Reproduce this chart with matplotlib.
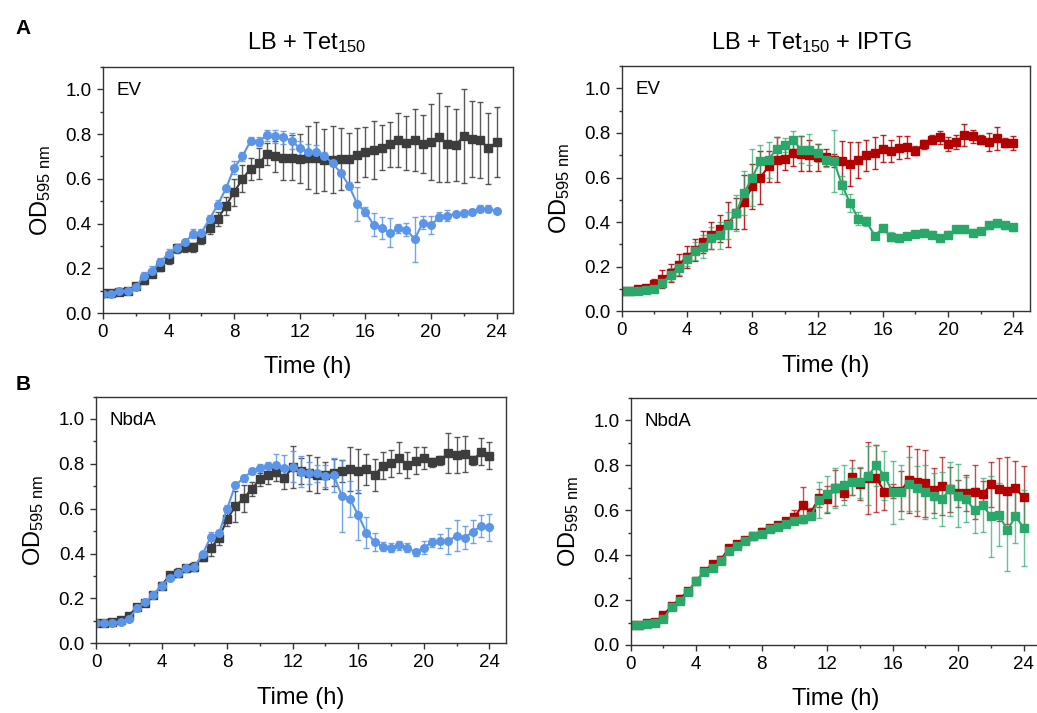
import numpy as np
import matplotlib
matplotlib.use("Agg")
import matplotlib.pyplot as plt
from matplotlib.ticker import MultipleLocator

plt.rcParams['font.family'] = ['Liberation Sans', 'DejaVu Sans']
plt.rcParams['mathtext.fontset'] = 'custom'
plt.rcParams['mathtext.rm'] = 'Liberation Sans'
plt.rcParams['mathtext.it'] = 'Liberation Sans:italic'
plt.rcParams['mathtext.bf'] = 'Liberation Sans:bold'

# sampling every 0.5 h
time_h = np.arange(0, 24.5, 0.5)

# --- A, LB + Tet150, EV ---
a_tet_gray = [0.09, 0.09, 0.095, 0.10, 0.12, 0.146, 0.176, 0.206, 0.24, 0.29,
              0.295, 0.295, 0.33, 0.38, 0.42, 0.48, 0.54, 0.60, 0.645, 0.67,
              0.71, 0.70, 0.695, 0.695, 0.69, 0.695, 0.695, 0.685, 0.686, 0.688,
              0.687, 0.706, 0.72, 0.73, 0.74, 0.754, 0.773, 0.76, 0.773, 0.755,
              0.766, 0.785, 0.755, 0.752, 0.79, 0.776, 0.773, 0.736, 0.764]
a_tet_gray_sd = [0.01, 0.01, 0.01, 0.01, 0.01, 0.015, 0.015, 0.02, 0.02, 0.02,
                 0.02, 0.02, 0.02, 0.025, 0.03, 0.04, 0.06, 0.06, 0.05, 0.07,
                 0.05, 0.07, 0.10, 0.10, 0.11, 0.14, 0.16, 0.14, 0.15, 0.14,
                 0.12, 0.12, 0.11, 0.13, 0.10, 0.10, 0.12, 0.12, 0.14, 0.13,
                 0.17, 0.20, 0.17, 0.16, 0.21, 0.17, 0.17, 0.16, 0.157]
a_tet_blue = [0.087, 0.087, 0.098, 0.10, 0.116, 0.167, 0.19, 0.228, 0.266, 0.29,
              0.316, 0.355, 0.36, 0.42, 0.485, 0.557, 0.65, 0.70, 0.77, 0.766,
              0.795, 0.79, 0.785, 0.77, 0.737, 0.72, 0.72, 0.704, 0.669, 0.627,
              0.57, 0.487, 0.452, 0.395, 0.38, 0.358, 0.378, 0.373, 0.33, 0.404,
              0.392, 0.43, 0.436, 0.442, 0.445, 0.452, 0.467, 0.466, 0.457]
a_tet_blue_sd = [0.01, 0.01, 0.01, 0.01, 0.01, 0.015, 0.02, 0.02, 0.02, 0.015,
                 0.015, 0.02, 0.015, 0.02, 0.02, 0.015, 0.03, 0.02, 0.015, 0.02,
                 0.025, 0.03, 0.03, 0.035, 0.03, 0.035, 0.03, 0.015, 0.01, 0.01,
                 0.015, 0.075, 0.02, 0.05, 0.05, 0.065, 0.02, 0.03, 0.10, 0.03,
                 0.04, 0.02, 0.025, 0.01, 0.015, 0.015, 0.015, 0.015, 0.01]

# --- A, LB + Tet150 + IPTG, EV ---
a_iptg_red = [0.092, 0.092, 0.098, 0.103, 0.124, 0.146, 0.17, 0.209, 0.245, 0.275,
              0.31, 0.34, 0.37, 0.39, 0.44, 0.49, 0.56, 0.60, 0.65, 0.68,
              0.685, 0.71, 0.707, 0.70, 0.69, 0.69, 0.677, 0.674, 0.66, 0.68,
              0.70, 0.71, 0.73, 0.72, 0.734, 0.737, 0.72, 0.75, 0.77, 0.78,
              0.75, 0.76, 0.79, 0.785, 0.77, 0.76, 0.775, 0.755, 0.755]
a_iptg_red_sd = [0.01, 0.01, 0.01, 0.01, 0.02, 0.04, 0.04, 0.05, 0.05, 0.05,
                 0.05, 0.06, 0.06, 0.10, 0.07, 0.12, 0.10, 0.12, 0.07, 0.10,
                 0.05, 0.06, 0.08, 0.07, 0.06, 0.04, 0.03, 0.09, 0.10, 0.08,
                 0.07, 0.07, 0.06, 0.05, 0.05, 0.05, 0.02, 0.02, 0.02, 0.03,
                 0.03, 0.03, 0.05, 0.03, 0.02, 0.04, 0.05, 0.02, 0.03]
a_iptg_green = [0.09, 0.09, 0.092, 0.096, 0.10, 0.128, 0.164, 0.194, 0.233, 0.27,
                0.29, 0.33, 0.34, 0.386, 0.44, 0.53, 0.60, 0.675, 0.68, 0.73,
                0.745, 0.767, 0.725, 0.725, 0.71, 0.677, 0.674, 0.566, 0.484, 0.416,
                0.404, 0.339, 0.372, 0.334, 0.328, 0.337, 0.346, 0.352, 0.343, 0.327,
                0.343, 0.367, 0.367, 0.352, 0.36, 0.386, 0.394, 0.386, 0.376]
a_iptg_green_sd = [0.01, 0.01, 0.01, 0.01, 0.01, 0.02, 0.03, 0.03, 0.03, 0.04,
                   0.05, 0.05, 0.06, 0.06, 0.08, 0.10, 0.13, 0.07, 0.08, 0.05,
                   0.03, 0.04, 0.06, 0.07, 0.04, 0.03, 0.14, 0.04, 0.04, 0.03,
                   0.02, 0.01, 0.015, 0.02, 0.015, 0.015, 0.015, 0.015, 0.015, 0.015,
                   0.015, 0.015, 0.015, 0.015, 0.015, 0.015, 0.015, 0.015, 0.015]

# --- B, LB + Tet150, NbdA ---
b_tet_gray = [0.09, 0.09, 0.094, 0.103, 0.123, 0.162, 0.18, 0.215, 0.257, 0.305,
              0.315, 0.334, 0.342, 0.386, 0.426, 0.468, 0.554, 0.61, 0.646, 0.688,
              0.731, 0.75, 0.762, 0.738, 0.786, 0.768, 0.76, 0.75, 0.75, 0.76,
              0.768, 0.777, 0.768, 0.776, 0.75, 0.792, 0.802, 0.827, 0.795, 0.814,
              0.827, 0.807, 0.816, 0.847, 0.84, 0.842, 0.816, 0.854, 0.837]
b_tet_gray_sd = [0.01, 0.01, 0.01, 0.01, 0.01, 0.01, 0.01, 0.015, 0.015, 0.015,
                 0.02, 0.015, 0.02, 0.02, 0.035, 0.03, 0.03, 0.07, 0.06, 0.03,
                 0.03, 0.04, 0.04, 0.05, 0.095, 0.06, 0.08, 0.08, 0.06, 0.06,
                 0.05, 0.10, 0.10, 0.07, 0.07, 0.06, 0.06, 0.07, 0.06, 0.06,
                 0.05, 0.02, 0.02, 0.09, 0.08, 0.08, 0.02, 0.06, 0.06]
b_tet_blue = [0.09, 0.09, 0.09, 0.097, 0.11, 0.156, 0.183, 0.215, 0.257, 0.29,
              0.312, 0.334, 0.342, 0.397, 0.475, 0.49, 0.60, 0.706, 0.735, 0.768,
              0.783, 0.79, 0.795, 0.78, 0.787, 0.765, 0.76, 0.757, 0.746, 0.75,
              0.657, 0.642, 0.572, 0.493, 0.453, 0.431, 0.426, 0.437, 0.426, 0.405,
              0.426, 0.45, 0.456, 0.456, 0.48, 0.471, 0.498, 0.524, 0.518]
b_tet_blue_sd = [0.01, 0.01, 0.01, 0.01, 0.01, 0.01, 0.01, 0.01, 0.01, 0.01,
                 0.01, 0.01, 0.01, 0.01, 0.02, 0.015, 0.015, 0.01, 0.015, 0.015,
                 0.015, 0.02, 0.05, 0.06, 0.07, 0.07, 0.05, 0.04, 0.05, 0.075,
                 0.16, 0.08, 0.11, 0.07, 0.04, 0.02, 0.02, 0.02, 0.02, 0.015,
                 0.03, 0.02, 0.03, 0.06, 0.07, 0.05, 0.05, 0.05, 0.06]

# --- B, LB + Tet150 + IPTG, NbdA ---
b_iptg_red = [0.09, 0.09, 0.096, 0.103, 0.134, 0.172, 0.206, 0.239, 0.284, 0.328,
              0.361, 0.38, 0.43, 0.448, 0.466, 0.485, 0.504, 0.519, 0.533, 0.552,
              0.57, 0.622, 0.59, 0.654, 0.649, 0.70, 0.675, 0.746, 0.716, 0.743,
              0.742, 0.683, 0.686, 0.686, 0.736, 0.724, 0.72, 0.69, 0.709, 0.694,
              0.676, 0.676, 0.681, 0.672, 0.715, 0.694, 0.687, 0.698, 0.657]
b_iptg_red_sd = [0.01, 0.01, 0.01, 0.01, 0.01, 0.01, 0.015, 0.01, 0.01, 0.01,
                 0.01, 0.015, 0.015, 0.01, 0.01, 0.015, 0.015, 0.01, 0.015, 0.015,
                 0.03, 0.08, 0.02, 0.04, 0.06, 0.08, 0.03, 0.08, 0.07, 0.16,
                 0.15, 0.08, 0.03, 0.09, 0.15, 0.15, 0.15, 0.10, 0.13, 0.10,
                 0.06, 0.08, 0.12, 0.06, 0.10, 0.14, 0.15, 0.12, 0.14]
b_iptg_green = [0.087, 0.087, 0.093, 0.096, 0.116, 0.17, 0.194, 0.236, 0.287, 0.325,
                0.343, 0.373, 0.42, 0.44, 0.463, 0.485, 0.496, 0.515, 0.525, 0.54,
                0.55, 0.56, 0.575, 0.645, 0.672, 0.70, 0.713, 0.728, 0.724, 0.754,
                0.80, 0.754, 0.68, 0.68, 0.716, 0.698, 0.682, 0.664, 0.649, 0.694,
                0.664, 0.649, 0.60, 0.622, 0.573, 0.58, 0.51, 0.573, 0.522]
b_iptg_green_sd = [0.01, 0.01, 0.01, 0.01, 0.01, 0.01, 0.01, 0.01, 0.01, 0.01,
                   0.01, 0.01, 0.01, 0.01, 0.01, 0.01, 0.01, 0.01, 0.01, 0.01,
                   0.01, 0.015, 0.02, 0.08, 0.08, 0.09, 0.09, 0.06, 0.07, 0.13,
                   0.09, 0.11, 0.14, 0.12, 0.12, 0.10, 0.12, 0.10, 0.12, 0.12,
                   0.14, 0.10, 0.10, 0.12, 0.18, 0.14, 0.18, 0.12, 0.17]

GRAY = '#3d3d3d'
BLUE = '#5b95e8'
RED = '#b30000'
GREEN = '#2aa869'


def draw(ax, y, sd, color, marker, ealpha=0.85):
    eb = ax.errorbar(time_h, y, yerr=sd, color=color, marker=marker, ms=5.5,
                     lw=1.5, elinewidth=1, capsize=2.5, capthick=1)
    for part in eb[1] + eb[2]:
        part.set_alpha(ealpha)


def style(ax, tag):
    ax.set_xlim(0, 25)
    ax.set_ylim(0, 1.1)
    ax.xaxis.set_major_locator(MultipleLocator(4))
    ax.xaxis.set_minor_locator(MultipleLocator(2))
    ax.yaxis.set_minor_locator(MultipleLocator(0.1))
    ax.set_yticks(np.arange(0, 1.01, 0.2))
    ax.set_yticklabels(['0.0', '0.2', '0.4', '0.6', '0.8', '1.0'])
    ax.tick_params(which='major', direction='out', length=4, width=1,
                   labelsize=13.5, pad=4, color='#333333')
    ax.tick_params(which='minor', direction='out', length=2.5, width=1,
                   color='#333333')
    for sp in ax.spines.values():
        sp.set_color('#333333')
        sp.set_linewidth(1)
    ax.set_xlabel('Time (h)', fontsize=17, labelpad=11)
    ax.set_ylabel(r'OD$_\mathrm{595\ nm}$', fontsize=17, labelpad=9)
    ax.text(0.034, 0.905, tag, transform=ax.transAxes, fontsize=13.5,
            va='center', ha='left')


fig = plt.figure(figsize=(10.37, 7.13), dpi=100)

ax1 = fig.add_axes([0.0993, 0.561, 0.3954, 0.345])
draw(ax1, a_tet_gray, a_tet_gray_sd, GRAY, 's')
draw(ax1, a_tet_blue, a_tet_blue_sd, BLUE, 'o')
style(ax1, 'EV')

ax2 = fig.add_axes([0.5995, 0.5634, 0.3934, 0.344])
draw(ax2, a_iptg_red, a_iptg_red_sd, RED, 's')
draw(ax2, a_iptg_green, a_iptg_green_sd, GREEN, 's', 0.7)
style(ax2, 'EV')

ax3 = fig.add_axes([0.0926, 0.0978, 0.3951, 0.346])
draw(ax3, b_tet_gray, b_tet_gray_sd, GRAY, 's')
draw(ax3, b_tet_blue, b_tet_blue_sd, BLUE, 'o')
style(ax3, 'NbdA')

ax4 = fig.add_axes([0.6082, 0.0954, 0.3947, 0.3464])
draw(ax4, b_iptg_red, b_iptg_red_sd, RED, 's', 0.7)
draw(ax4, b_iptg_green, b_iptg_green_sd, GREEN, 's', 0.7)
style(ax4, 'NbdA')

fig.text(307 / 1037, 1 - 43 / 713, r'LB + Tet$_\mathrm{150}$', fontsize=17,
         ha='center', va='center')
fig.text(811 / 1037, 1 - 43 / 713, r'LB + Tet$_\mathrm{150}$ + IPTG', fontsize=17,
         ha='center', va='center')
fig.text(23 / 1037, 1 - 28 / 713, 'A', fontsize=15, fontweight='bold',
         ha='center', va='center')
fig.text(23 / 1037, 1 - 385 / 713, 'B', fontsize=15, fontweight='bold',
         ha='center', va='center')

fig.savefig('out.png', dpi=100)
